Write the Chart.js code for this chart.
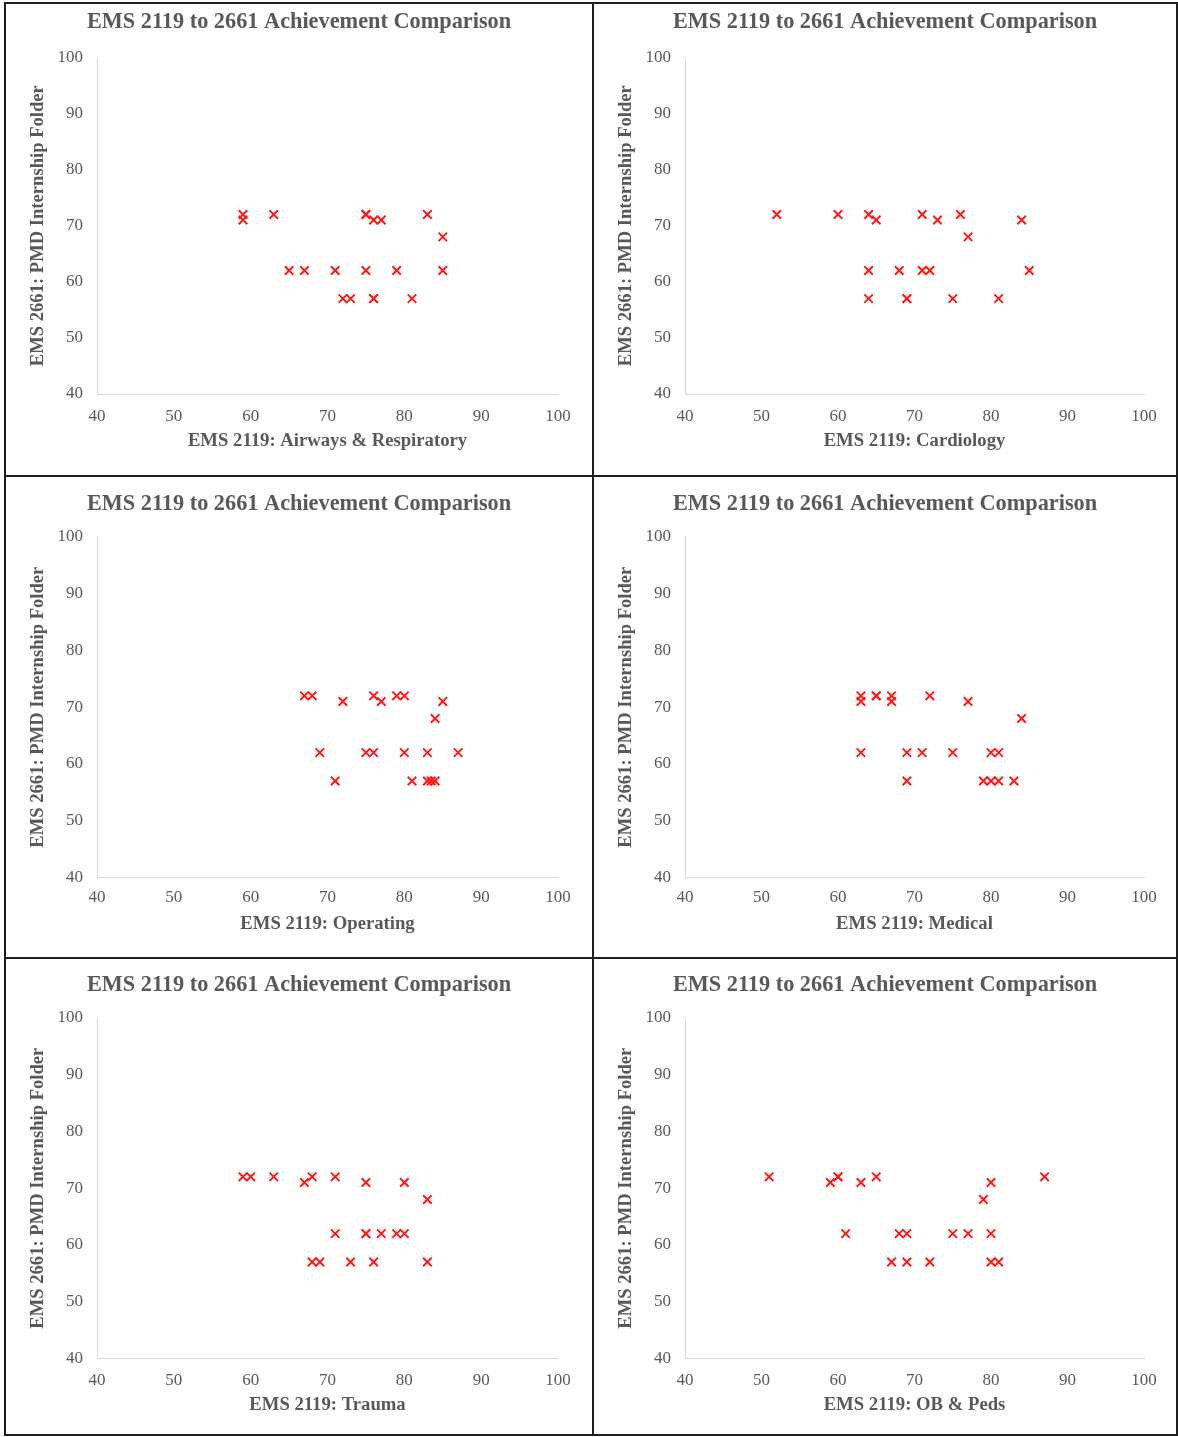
<!DOCTYPE html>
<html>
<head>
<meta charset="utf-8">
<script src="https://cdn.jsdelivr.net/npm/chart.js@4.4.0/dist/chart.umd.min.js"></script>
<style>
  html, body { margin: 0; padding: 0; background: #fff; }
  body { width: 1178px; height: 1437px; position: relative; overflow: hidden; }
  .panel { position: absolute; box-sizing: border-box; border: 2px solid #1e1e1e; background: #fff; }
  .panel canvas { position: absolute; left: 0; top: 0; }
</style>
</head>
<body>
<script>
// shared
const chartTitle = 'EMS 2119 to 2661 Achievement Comparison';
const yAxisTitle = 'EMS 2661: PMD Internship Folder';
const axisTicks = [40, 50, 60, 70, 80, 90, 100];

// EMS 2119 section scores (x) vs EMS 2661 folder scores (y)
const airwaysX = [59, 59, 63, 75, 75, 76, 77, 83, 85, 65, 67, 71, 75, 79, 85, 72, 73, 76, 76, 81];
const airwaysY = [72, 71, 72, 72, 72, 71, 71, 72, 68, 62, 62, 62, 62, 62, 62, 57, 57, 57, 57, 57];

const cardiologyX = [52, 60, 64, 65, 71, 73, 76, 77, 84, 64, 68, 71, 72, 85, 64, 69, 69, 75, 81];
const cardiologyY = [72, 72, 72, 71, 72, 71, 72, 68, 71, 62, 62, 62, 62, 62, 57, 57, 57, 57, 57];

const operatingX = [67, 68, 72, 76, 77, 79, 80, 85, 84, 69, 75, 76, 80, 83, 87, 71, 81, 83, 83.5, 84];
const operatingY = [72, 72, 71, 72, 71, 72, 72, 71, 68, 62, 62, 62, 62, 62, 62, 57, 57, 57, 57, 57];

const medicalX = [63, 63, 65, 65, 67, 67, 72, 77, 84, 63, 69, 71, 75, 80, 81, 69, 79, 80, 81, 83];
const medicalY = [72, 71, 72, 72, 72, 71, 72, 71, 68, 62, 62, 62, 62, 62, 62, 57, 57, 57, 57, 57];

const traumaX = [59, 60, 63, 67, 68, 71, 75, 80, 83, 71, 75, 75, 77, 79, 80, 68, 69, 73, 76, 83];
const traumaY = [72, 72, 72, 71, 72, 72, 71, 71, 68, 62, 62, 62, 62, 62, 62, 57, 57, 57, 57, 57];

const obPedsX = [51, 59, 60, 60, 63, 65, 80, 79, 87, 61, 68, 69, 75, 77, 80, 67, 69, 72, 80, 81];
const obPedsY = [72, 71, 72, 72, 71, 72, 71, 68, 72, 62, 62, 62, 62, 62, 62, 57, 57, 57, 57, 57];

const panels = [
  { xTitle: 'EMS 2119: Airways & Respiratory', x: airwaysX, y: airwaysY },
  { xTitle: 'EMS 2119: Cardiology', x: cardiologyX, y: cardiologyY },
  { xTitle: 'EMS 2119: Operating', x: operatingX, y: operatingY },
  { xTitle: 'EMS 2119: Medical', x: medicalX, y: medicalY },
  { xTitle: 'EMS 2119: Trauma', x: traumaX, y: traumaY },
  { xTitle: 'EMS 2119: OB & Peds', x: obPedsX, y: obPedsY },
];

// page geometry (outer boxes incl. 2px border)
const cols = [{ left: 4, w: 590, rightPad: 34 }, { left: 592, w: 586, rightPad: 32 }];
const rows = [
  { top: 2, h: 475, titleTop: 5, titleBottom: 21.6, axisH: 81, tickPad: 12.5, xTitlePad: 23 },
  { top: 475, h: 484, titleTop: 14, titleBottom: 19.1, axisH: 79.5, tickPad: 9.5, xTitlePad: 22 },
  { top: 957, h: 479, titleTop: 13, titleBottom: 19.1, axisH: 75.5, tickPad: 11.5, xTitlePad: 18 },
];

const FONT = '"Liberation Serif", "Times New Roman", serif';
const TEXT = '#595959';
const LINE = '#d9d9d9';

function makeChart(p, col, row) {
  const div = document.createElement('div');
  div.className = 'panel';
  Object.assign(div.style, { left: col.left + 'px', top: row.top + 'px', width: col.w + 'px', height: row.h + 'px' });
  const canvas = document.createElement('canvas');
  canvas.width = col.w - 4;
  canvas.height = row.h - 4;
  div.appendChild(canvas);
  document.body.appendChild(div);

  const step = axisTicks[1] - axisTicks[0];
  const axisBase = {
    type: 'linear',
    min: axisTicks[0],
    max: axisTicks[axisTicks.length - 1],
    grid: { display: false, drawTicks: false },
    border: { display: true, color: LINE, width: 1 },
  };

  return new Chart(canvas, {
    type: 'scatter',
    data: {
      datasets: [{
        data: p.x.map((v, i) => ({ x: v, y: p.y[i] })),
        pointStyle: 'crossRot',
        pointRadius: 6,
        pointHoverRadius: 6,
        borderColor: '#ff1a1a',
        backgroundColor: '#ff1a1a',
        pointBorderWidth: 2,
      }],
    },
    options: {
      responsive: false,
      animation: false,
      devicePixelRatio: 1,
      layout: { padding: 0 },
      plugins: {
        legend: { display: false },
        tooltip: { enabled: false },
        title: {
          display: true,
          text: chartTitle,
          color: TEXT,
          font: { family: FONT, size: 22.3, weight: 'bold' },
          padding: { top: row.titleTop, bottom: row.titleBottom },
        },
      },
      scales: {
        x: {
          ...axisBase,
          position: 'bottom',
          ticks: { stepSize: step, color: TEXT, font: { family: FONT, size: 17 }, padding: row.tickPad, maxRotation: 0 },
          title: {
            display: true, text: p.xTitle, color: TEXT,
            font: { family: FONT, size: 18.7, weight: 'bold' },
            padding: { top: 0, bottom: row.xTitlePad },
          },
          afterFit: (s) => { s.height = row.axisH; },
        },
        y: {
          ...axisBase,
          position: 'left',
          ticks: { stepSize: step, color: TEXT, font: { family: FONT, size: 17 }, padding: 14 },
          title: {
            display: true, text: yAxisTitle, color: TEXT,
            font: { family: FONT, size: 18.6, weight: 'bold' },
            padding: { top: 21, bottom: 0 },
          },
          afterFit: (s) => { s.width = 91; },
        },
        // empty right-hand box so the plot keeps its right margin while the title stays centred
        spacer: {
          type: 'linear',
          position: 'right',
          display: true,
          grid: { display: false, drawTicks: false },
          border: { display: false },
          ticks: { display: false },
          afterFit: (s) => { s.width = col.rightPad; },
        },
      },
    },
  });
}

panels.forEach((p, i) => makeChart(p, cols[i % 2], rows[Math.floor(i / 2)]));
</script>
</body>
</html>
